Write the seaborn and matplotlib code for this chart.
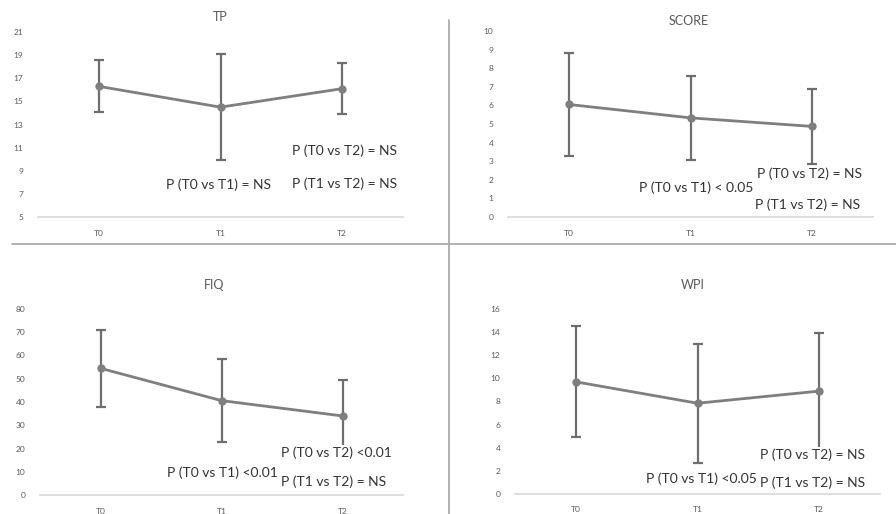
import matplotlib
matplotlib.use("Agg")
import matplotlib.pyplot as plt
import seaborn as sns
import pandas as pd

sns.set_theme(style="white")
plt.rcParams["font.family"] = ["Lato", "DejaVu Sans"]

times = ["T0", "T1", "T2"]

tp_mean = [16.3, 14.5, 16.1]
tp_sd = [2.25, 4.6, 2.2]

score_mean = [6.05, 5.33, 4.87]
score_sd = [2.75, 2.25, 2.0]

fiq_mean = [54.5, 40.6, 34.0]
fiq_sd = [16.5, 17.8, 15.5]

wpi_mean = [9.7, 7.85, 8.9]
wpi_sd = [4.8, 5.15, 5.05]

tp_notes = ["P (T0 vs T1) = NS", "P (T0 vs T2) = NS", "P (T1 vs T2) = NS"]
score_notes = ["P (T0 vs T1) < 0.05", "P (T0 vs T2) = NS", "P (T1 vs T2) = NS"]
fiq_notes = ["P (T0 vs T1) <0.01", "P (T0 vs T2) <0.01", "P (T1 vs T2) = NS"]
wpi_notes = ["P (T0 vs T1) <0.05", "P (T0 vs T2) = NS", "P (T1 vs T2) = NS"]

LINE = "#7f7f7f"
ERR = "#6e6e6e"
TXT = "#595959"
W, H = 896, 514

fig = plt.figure(figsize=(W / 100, H / 100), dpi=100)


def add_axes(x0, x1, ytop, ybot):
    return fig.add_axes([x0 / W, 1 - ybot / H, (x1 - x0) / W, (ybot - ytop) / H])


def panel(ax, title, title_xy, means, sds, ylim, step, notes, note_pos):
    df = pd.DataFrame({"time": times, "value": means})
    ax.errorbar(range(len(times)), means, yerr=sds, fmt="none", ecolor=ERR,
                elinewidth=1.6, capsize=3.5, capthick=1.6, zorder=2)
    sns.lineplot(data=df, x="time", y="value", ax=ax, color=LINE, linewidth=2,
                 marker="o", markersize=6, markeredgewidth=0, zorder=3)
    ax.set_xlim(-0.5, 2.5)
    ax.set_ylim(*ylim)
    ax.set_yticks(range(ylim[0], ylim[1] + 1, step))
    ax.set_xlabel("")
    ax.set_ylabel("")
    for s in ("top", "right", "left"):
        ax.spines[s].set_visible(False)
    ax.spines["bottom"].set_color("#d9d9d9")
    ax.spines["bottom"].set_linewidth(1.2)
    ax.tick_params(axis="both", length=0, labelsize=6, labelcolor=TXT)
    ax.tick_params(axis="x", pad=9)
    ax.tick_params(axis="y", pad=10.5)
    fig.text(title_xy[0] / W, 1 - title_xy[1] / H, title, fontsize=9, color=TXT,
             ha="center", va="center")
    for txt, (x, y) in zip(notes, note_pos):
        ax.text(x, y, txt, fontsize=10, color="#333333", ha="left", va="center",
                zorder=5, bbox=dict(facecolor="white", edgecolor="none", pad=1))


ax1 = add_axes(38, 403, 32, 217)
panel(ax1, "TP", (220, 17), tp_mean, tp_sd, (5, 21), 2, tp_notes,
      [(0.55, 7.8), (1.59, 10.7), (1.59, 7.9)])

ax2 = add_axes(508, 873, 31, 217)
panel(ax2, "SCORE", (689, 21), score_mean, score_sd, (0, 10), 1, score_notes,
      [(0.58, 1.6), (1.55, 2.3), (1.53, 0.65)])

ax3 = add_axes(40, 403, 309, 495)
panel(ax3, "FIQ", (214, 285), fiq_mean, fiq_sd, (0, 80), 10, fiq_notes,
      [(0.55, 9.7), (1.49, 18.0), (1.49, 5.5)])

ax4 = add_axes(515, 880, 309, 494)
panel(ax4, "WPI", (693, 285), wpi_mean, wpi_sd, (0, 16), 2, wpi_notes,
      [(0.58, 1.3), (1.51, 3.4), (1.51, 1.0)])

# panel separators
fig.add_artist(plt.Line2D([12 / W, 1], [1 - 244 / H, 1 - 244 / H], color="#a6a6a6", lw=1.2))
fig.add_artist(plt.Line2D([449 / W, 449 / W], [0, 1 - 20 / H], color="#a6a6a6", lw=1.2))

fig.savefig("out.png", dpi=100, facecolor="white")
